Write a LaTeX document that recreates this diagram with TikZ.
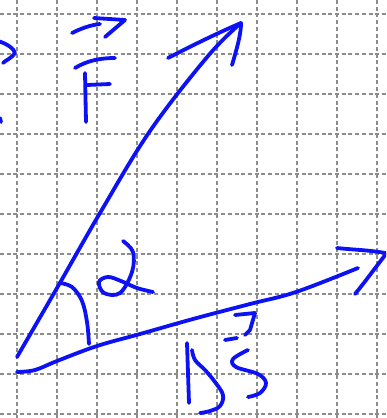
\documentclass[tikz,border=0pt]{standalone}
\usetikzlibrary{calc}
\definecolor{ink}{RGB}{12,18,245}
\definecolor{gridc}{RGB}{140,140,140}
\tikzset{
  pen/.style={draw=ink, line width=3.8pt, line cap=round, line join=round},
  gridline/.style={draw=gridc, line width=1.4pt, dash pattern=on 4pt off 2.7pt}
}
\begin{document}
\begin{tikzpicture}[x=1pt,y=-1pt]
\fill[white] (0,0) rectangle (386,418);
\useasboundingbox (0,0) rectangle (386,418);
\begin{scope}
\clip (0,0) rectangle (386,418);
% grid
\foreach \gx in {17,57,...,377} \draw[gridline] (\gx,0) -- (\gx,418);
\foreach \gy in {14,54,...,414} \draw[gridline] (0,\gy) -- (386,\gy);
% F vector
\coordinate (O1) at (17,357);
\coordinate (Ftip) at (241,23);
\draw[pen] plot[smooth, tension=0.6] coordinates {(17,357) (57,288) (100,213) (150,131) (208,56) (Ftip)};
\draw[pen] (168,58) .. controls (195,44) and (220,32) .. (Ftip);
\draw[pen] (Ftip) .. controls (241,33) and (238,45) .. (232,65);
% Delta s vector
\draw[pen] plot[smooth, tension=0.6] coordinates {(17,372) (35,370) (57,361) (97,346) (140,334) (193,319) (250,304) (296,292) (358,268)};
\draw[pen] (337,248) .. controls (355,250) and (372,250) .. (390,254);
\draw[pen] (386,254) .. controls (375,268) and (365,282) .. (355,294);
% angle arc
\draw[pen] plot[smooth, tension=0.6] coordinates {(60,283) (72,287) (82,301) (87,322) (89,344)};
% alpha
\draw[pen] plot[smooth, tension=0.6] coordinates {(123,241) (133,252) (132,272) (120,293) (104,293) (99,282) (108,277) (121,281) (137,288) (153,292)};
% F label
\draw[pen] (72,33) .. controls (80,29) and (90,25) .. (100,24);
\draw[pen] (94,18) -- (125,20) -- (105,37);
\draw[pen] (75,68) .. controls (88,60) and (102,58) .. (115,58);
\draw[pen] (85,73) -- (86,122);
\draw[pen] (87,85) -- (110,84);
% Delta s label
\draw[pen] (187,343) -- (189,403);
\draw[pen] plot[smooth, tension=0.6] coordinates {(192,350) (195,360) (205,370) (215,382) (223,395) (220,406) (210,411) (200,413)};
\draw[pen] (235,315) -- (255,313) -- (250,330) -- (245,335);
\draw[pen] (225,340) -- (237,338);
\draw[pen] plot[smooth, tension=0.6] coordinates {(248,350) (233,359) (236,367) (258,374) (266,383) (260,393) (248,397)};
% left-edge fragments
\draw[pen] (-2,41) .. controls (8,44) and (14,49) .. (15,53) .. controls (12,58) and (6,60) .. (3,63);
\draw[pen] (0,118) -- (1,122);
\end{scope}
\end{tikzpicture}
\end{document}
